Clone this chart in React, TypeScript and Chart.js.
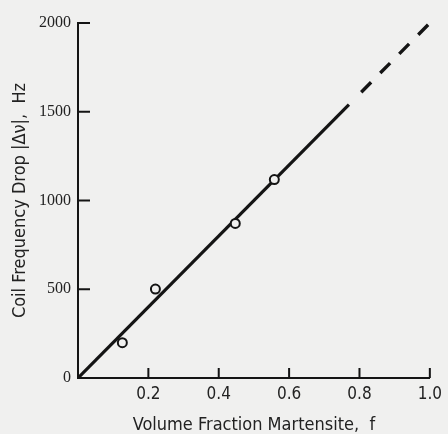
import React, { useEffect, useRef } from "react";
import { Chart, registerables } from "chart.js";

Chart.register(...registerables);

// Measured points (volume fraction martensite vs coil frequency drop, Hz)
const measuredFraction = [0.126, 0.22, 0.447, 0.558];
const measuredDrop = [199, 501, 871, 1118];

// Fitted line: solid part and dashed extrapolation
const fitSolidX = [0, 0.77];
const fitSolidY = [0, 1540];
const fitDashedX = [0.805, 1.0];
const fitDashedY = [1610, 2000];

// Axis ticks
const xTickValues = [0.2, 0.4, 0.6, 0.8, 1.0];
const xTickLabels = ["0.2", "0.4", "0.6", "0.8", "1.0"];
const yTickValues = [0, 500, 1000, 1500, 2000];
const yTickLabels = ["0", "500", "1000", "1500", "2000"];

const xTitle = "Volume Fraction Martensite,  f";
const yTitle = "Coil Frequency Drop |\u0394\u03bd|,  Hz";

const BG = "#f0f0ef";
const INK = "#141414";
const SANS = "'DejaVu Sans Condensed', 'Liberation Sans Narrow', 'DejaVu Sans', sans-serif";
const SERIF = "'Liberation Serif', 'DejaVu Serif', serif";

const toXY = (xs: number[], ys: number[]) => xs.map((x, i) => ({ x, y: ys[i] }));

const bgPlugin = {
  id: "bg",
  beforeDraw(chart: any) {
    const { ctx, width, height } = chart;
    ctx.save();
    ctx.fillStyle = BG;
    ctx.fillRect(0, 0, width, height);
    ctx.restore();
  },
};

const innerTicksPlugin = {
  id: "innerTicks",
  afterDraw(chart: any) {
    const { ctx, chartArea } = chart;
    const xs = chart.scales.x;
    const ys = chart.scales.y;
    ctx.save();
    ctx.strokeStyle = INK;
    ctx.lineWidth = 2;
    ctx.beginPath();
    xTickValues.forEach((v) => {
      const px = xs.getPixelForValue(v);
      ctx.moveTo(px, chartArea.bottom);
      ctx.lineTo(px, chartArea.bottom - 10);
    });
    yTickValues.forEach((v) => {
      if (v === 0) return;
      const py = ys.getPixelForValue(v);
      ctx.moveTo(chartArea.left, py);
      ctx.lineTo(chartArea.left + 12, py);
    });
    ctx.stroke();
    ctx.restore();
  },
};

export default function App() {
  const ref = useRef<HTMLCanvasElement | null>(null);

  useEffect(() => {
    document.body.style.margin = "0";
    document.body.style.background = BG;
    if (!ref.current) return;
    const chart = new Chart(ref.current, {
      type: "scatter",
      data: {
        datasets: [
          {
            label: "measured",
            data: toXY(measuredFraction, measuredDrop),
            showLine: false,
            pointStyle: "circle",
            pointRadius: 4.5,
            pointBorderWidth: 2,
            pointBackgroundColor: BG,
            pointBorderColor: INK,
            order: 0,
          },
          {
            label: "fit",
            data: toXY(fitSolidX, fitSolidY),
            showLine: true,
            pointRadius: 0,
            borderColor: INK,
            borderWidth: 3.2,
            borderCapStyle: "butt",
            order: 1,
          },
          {
            label: "fit extrapolated",
            data: toXY(fitDashedX, fitDashedY),
            showLine: true,
            pointRadius: 0,
            borderColor: INK,
            borderWidth: 3.4,
            borderDash: [14, 13],
            borderCapStyle: "butt",
            order: 1,
          },
        ],
      },
      options: {
        animation: false,
        responsive: false,
        devicePixelRatio: 1,
        layout: { padding: { top: 23, right: 17, left: 0, bottom: 0 } },
        plugins: { legend: { display: false }, tooltip: { enabled: false } },
        scales: {
          x: {
            type: "linear",
            position: "bottom",
            min: 0,
            max: 1,
            afterBuildTicks: (s: any) => {
              s.ticks = xTickValues.map((value) => ({ value }));
            },
            afterFit: (s: any) => {
              s.height = 56;
            },
            ticks: {
              padding: 6,
              color: "#222",
              font: { family: SANS, size: 17 },
              callback: (v: any) => {
                const i = xTickValues.findIndex((t) => Math.abs(t - Number(v)) < 1e-9);
                return i >= 0 ? xTickLabels[i] : "";
              },
            },
            grid: { display: false, drawTicks: false },
            border: { display: true, color: INK, width: 2 },
            title: {
              display: true,
              text: xTitle,
              color: "#222",
              font: { family: SANS, size: 18, lineHeight: 1 },
              padding: { top: 0, bottom: 0 },
            },
          },
          y: {
            type: "linear",
            position: "left",
            min: 0,
            max: 2000,
            afterBuildTicks: (s: any) => {
              s.ticks = yTickValues.map((value) => ({ value }));
            },
            afterFit: (s: any) => {
              s.width = 78;
            },
            ticks: {
              padding: 7,
              color: "#222",
              font: { family: SERIF, size: 16 },
              callback: (v: any) => {
                const i = yTickValues.findIndex((t) => Math.abs(t - Number(v)) < 1e-9);
                return i >= 0 ? yTickLabels[i] : "";
              },
            },
            grid: { display: false, drawTicks: false },
            border: { display: true, color: INK, width: 2 },
            title: {
              display: true,
              text: yTitle,
              color: "#222",
              font: { family: SANS, size: 18, lineHeight: 1.2 },
              padding: { top: 10, bottom: 0 },
            },
          },
        },
      },
      plugins: [bgPlugin, innerTicksPlugin],
    });
    return () => chart.destroy();
  }, []);

  return (
    <div style={{ width: 448, height: 434, background: BG }}>
      <canvas ref={ref} width={448} height={434} style={{ display: "block" }} />
    </div>
  );
}
